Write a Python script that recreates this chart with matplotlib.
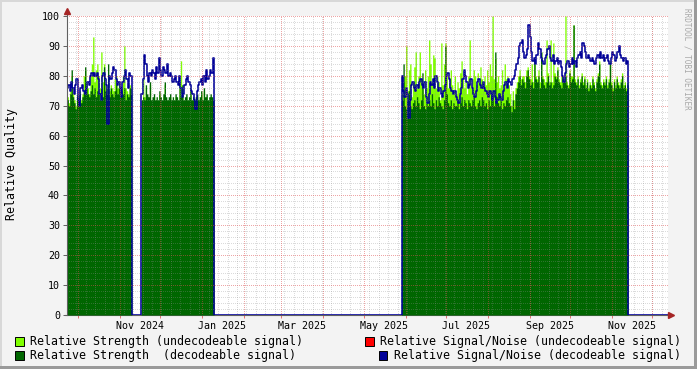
import numpy as np
import pandas as pd
import matplotlib
matplotlib.use('Agg')
import matplotlib.pyplot as plt
from matplotlib.patches import Rectangle

plt.rcParams['font.family'] = ['DejaVu Sans Mono']

# ---------------- data ----------------
axis_start = '2024-09-23'
axis_last_day = '2025-12-12'
axis_end = '2025-12-12 12:00'
seg_starts = ['2024-09-23', '2024-11-17', '2025-05-29']

# Relative Strength (undecodeable signal)
str_undec_1 = [73,71,75,80,74,72,70,74,73,75, 72,74,80,82,78,76,74,80,84,93,
               78,82,84,80,76,88,78,84,77,76, 80,75,77,76,75,79,80,76,78,75,
               76,80,90,76,75,74,77,76]
str_undec_2 = [70,79,73,76,73,72,77,71,72,73, 71,72,71,74,72,71,73,77,72,71,
               72,73,71,72,71,73,72,71,78,85, 76,71,72,73,71,72,75,71,72,71,
               72,73,71,72,74,71,75,72,73,71, 72,73,72,71]
str_undec_3 = [74,78,80,90,75,82,84,73,78,83, 88,76,80,88,79,77,74,82,76,80,
               92,84,78,87,86,76,80,78,72,91, 77,84,91,80,76,79,82,77,75,80,
               74,78,76,81,85,79,76,78,74,80, 92,76,79,82,80,77,81,78,83,79,
               76,80,77,82,78,84,80,100,79,86, 78,80,76,77,82,76,84,79,80,77,
               74,70,75,72,76,78,80,82,79,80, 80,78,82,83,80,79,84,78,86,80,
               79,82,78,88,80,79,78,92,81,78, 92,78,91,81,80,83,79,78,80,80,
               79,100,78,77,82,80,80,97,79,78, 80,77,79,81,78,80,77,79,76,78,
               77,80,78,76,79,81,85,78,77,79, 78,80,77,79,85,78,76,79,77,80,
               78,77,79,81,77,78,76,78]

# Relative Strength (decodeable signal)
str_dec_1 = [72,70,74,82,73,71,69,73,72,74, 71,73,75,83,76,74,73,75,77,74,
             76,73,75,74,72,76,73,83,75,74, 84,73,76,74,73,75,77,74,76,73,
             75,74,76,72,74,73,76,74]
str_dec_2 = [72,73,72,77,74,73,78,72,73,74, 72,73,72,75,73,72,74,78,73,72,
             73,74,72,73,72,74,73,72,76,73, 77,72,73,74,72,73,76,72,73,72,
             73,74,72,73,75,72,76,73,74,72, 73,74,73,72]
str_dec_3 = [72,84,70,69,72,75,70,69,71,72, 70,73,71,69,72,81,70,69,71,70,
             72,70,74,71,69,72,70,73,71,70, 69,72,90,74,71,70,72,69,71,70,
             70,72,69,71,73,70,72,71,69,72, 71,70,72,73,70,69,71,72,70,73,
             72,70,71,69,72,70,74,72,70,88, 73,71,70,72,69,71,70,72,73,71,
             70,68,72,69,74,76,78,80,77,79, 78,76,80,82,79,77,78,76,85,79,
             78,80,76,88,79,77,76,78,80,77, 78,76,77,80,79,82,78,77,76,79,
             78,80,77,76,81,78,79,97,78,77, 79,76,78,80,77,79,76,78,75,77,
             76,79,77,75,78,80,84,77,76,78, 77,79,76,78,84,77,75,78,76,79,
             77,76,78,80,76,77,75,77]

# Relative Signal/Noise (decodeable signal)
snr_dec_1 = [76,77,75,78,76,74,77,79,72,70, 76,77,75,74,76,78,77,80,81,80,
             81,80,81,79,74,72,80,81,79,77, 64,80,79,81,83,82,79,77,78,76,
             73,78,80,82,79,76,81,80]
snr_dec_2 = [74,79,87,84,80,78,81,80,82,81, 79,83,81,86,82,80,83,82,81,84,
             80,81,80,78,79,80,78,77,80,76, 73,74,77,79,80,78,77,75,74,72,
             69,75,77,78,79,77,80,78,82,79, 80,82,81,86]
snr_dec_3 = [80,75,73,76,74,66,72,77,78,76, 75,77,76,78,79,77,76,78,73,71,
             74,78,77,79,76,80,78,75,76,74, 73,75,77,80,81,79,76,75,74,75,
             73,72,71,74,76,79,82,80,78,76, 77,79,76,74,73,75,78,79,77,76,
             78,76,75,74,73,75,74,72,75,73, 71,72,74,73,72,75,77,78,76,79,
             78,77,79,80,82,84,86,90,91,92, 88,86,87,89,97,93,88,85,86,84,
             87,91,89,86,85,84,86,87,89,90, 86,85,87,84,85,86,84,85,83,80,
             78,81,84,85,83,84,86,84,85,83, 86,87,88,86,91,90,88,86,87,86,
             85,86,85,84,86,87,86,88,86,87, 85,86,87,85,84,86,88,87,85,86,
             88,90,87,86,85,86,84,85]

y_ticks = list(range(0, 101, 10))
x_label_months = ['2024-11-01', '2025-01-01', '2025-03-01', '2025-05-01',
                  '2025-07-01', '2025-09-01', '2025-11-01']

legend_labels = ['Relative Strength (undecodeable signal)',
                 'Relative Strength  (decodeable signal)',
                 'Relative Signal/Noise (undecodeable signal)',
                 'Relative Signal/Noise (decodeable signal)']

# colours
C_LIGHT = '#80FF00'
C_DARK = '#006600'
C_RED = '#FF0000'
C_BLUE = '#000099'

# ---------------- build series ----------------
days = pd.date_range(axis_start, axis_last_day, freq='D')
n = len(days)


def build(segs):
    arr = np.zeros(n)
    for start, vals in zip(seg_starts, segs):
        i0 = (pd.Timestamp(start) - days[0]).days
        arr[i0:i0 + len(vals)] = vals
    return arr


xs = list(days) + [days[-1] + pd.Timedelta(days=1)]
light = build([str_undec_1, str_undec_2, str_undec_3])
dark = build([str_dec_1, str_dec_2, str_dec_3])
blue = build([snr_dec_1, snr_dec_2, snr_dec_3])
light = np.append(light, light[-1])
dark = np.append(dark, dark[-1])
blue = np.append(blue, blue[-1])

# ---------------- figure ----------------
W, H = 697, 369
fig = plt.figure(figsize=(W / 100, H / 100), dpi=100, facecolor='#F3F3F3')
ax = fig.add_axes([67 / W, 54 / H, 601 / W, 299 / H])
ax.set_facecolor('white')

ax.fill_between(xs, 0, light, step='post', color=C_LIGHT, lw=0, zorder=2)
ax.fill_between(xs, 0, dark, step='post', color=C_DARK, lw=0, zorder=2.5)
ax.step(xs, blue, where='post', color=C_BLUE, lw=1.15, zorder=3)

t0 = pd.Timestamp(axis_start)
t1 = pd.Timestamp(axis_end)
ax.set_xlim(t0, t1)
ax.set_ylim(0, 100)

# grid (drawn over the data as rrdtool does), 1px dotted
dash = (0, (1, 1.4))
GRAY = (0.56, 0.56, 0.56, 0.32)
RED = (0.87, 0.31, 0.31, 0.5)
mondays = pd.date_range(t0, t1, freq='W-MON')
months = pd.date_range(t0, t1, freq='MS')
minor_y = [v for v in range(2, 100, 2) if v % 10]
ax.vlines(mondays, 0, 100, colors=[GRAY], linestyles=[dash], lw=0.72, zorder=5, antialiased=False)
ax.hlines(minor_y, t0, t1, colors=[GRAY], linestyles=[dash], lw=0.72, zorder=5, antialiased=False)
ax.vlines(months, 0, 100, colors=[RED], linestyles=[dash], lw=0.72, zorder=6, antialiased=False)
ax.hlines(y_ticks[1:], t0, t1, colors=[RED], linestyles=[dash], lw=0.72, zorder=6, antialiased=False)

for s in ax.spines.values():
    s.set_visible(False)

# y ticks
ax.set_yticks(y_ticks)
ax.set_yticklabels([str(v) for v in y_ticks])
ax.tick_params(axis='y', length=3, width=0.7, color='#606060', pad=2, labelsize=7.2)

# x ticks: labels centred mid-month, red tick marks at month starts
label_pos = [pd.Timestamp(m) + pd.Timedelta(days=15) for m in x_label_months]
ax.set_xticks(label_pos)
ax.set_xticklabels([pd.Timestamp(m).strftime('%b %Y') for m in x_label_months])
ax.tick_params(axis='x', which='major', length=0, pad=4, labelsize=7.2)
ax.set_xticks(list(months), minor=True)
ax.tick_params(axis='x', which='minor', length=2.5, width=0.7, color=(0.87, 0.31, 0.31, 0.8))

# axis lines with arrows
ax.plot([0, 0], [0, 1.018], transform=ax.transAxes, color='#606060', lw=0.8, clip_on=False, zorder=7)
ax.plot([-0.004, 1.003], [0, 0], transform=ax.transAxes, color='#606060', lw=0.8, clip_on=False, zorder=2.2)
ax.plot([0], [1.018], transform=ax.transAxes, marker='^', ms=4, color='#A52525', clip_on=False, zorder=8)
ax.plot([1.005], [0], transform=ax.transAxes, marker='>', ms=4, color='#A52525', clip_on=False, zorder=8)

# y label
fig.text(12 / W, 1 - 164 / H, 'Relative Quality', rotation=90, ha='center', va='center', fontsize=8.4)

# watermark
fig.text(687 / W, 1 - 59 / H, 'RRDTOOL / TOBI OETIKER', rotation=270, ha='center', va='center',
         fontsize=5.5, color='#A8A8A8')

# legend
legend_items = [
    (15, 341, C_LIGHT, 30, legend_labels[0]),
    (15, 355, C_DARK, 30, legend_labels[1]),
    (365, 341, C_RED, 380, legend_labels[2]),
    (379, 355, C_BLUE, 394, legend_labels[3]),
]
for sx, cy, col, tx, lab in legend_items:
    fig.add_artist(Rectangle((sx / W, 1 - (cy + 4.5) / H), 8.5 / W, 8.5 / H, transform=fig.transFigure,
                             facecolor=col, edgecolor='black', lw=0.7))
    fig.text(tx / W, 1 - cy / H, lab, ha='left', va='center', fontsize=8.4)

# 3D-like border
fig.add_artist(Rectangle((0, 1 - 2 / H), 1, 2 / H, transform=fig.transFigure, facecolor='#D8D8D8', lw=0))
fig.add_artist(Rectangle((0, 0), 2 / W, 1, transform=fig.transFigure, facecolor='#D8D8D8', lw=0))
fig.add_artist(Rectangle((0, 0), 1, 3 / H, transform=fig.transFigure, facecolor='#9A9A9A', lw=0))
fig.add_artist(Rectangle((1 - 3 / W, 0), 3 / W, 1, transform=fig.transFigure, facecolor='#9A9A9A', lw=0))

fig.savefig('out.png', dpi=100, facecolor=fig.get_facecolor())
